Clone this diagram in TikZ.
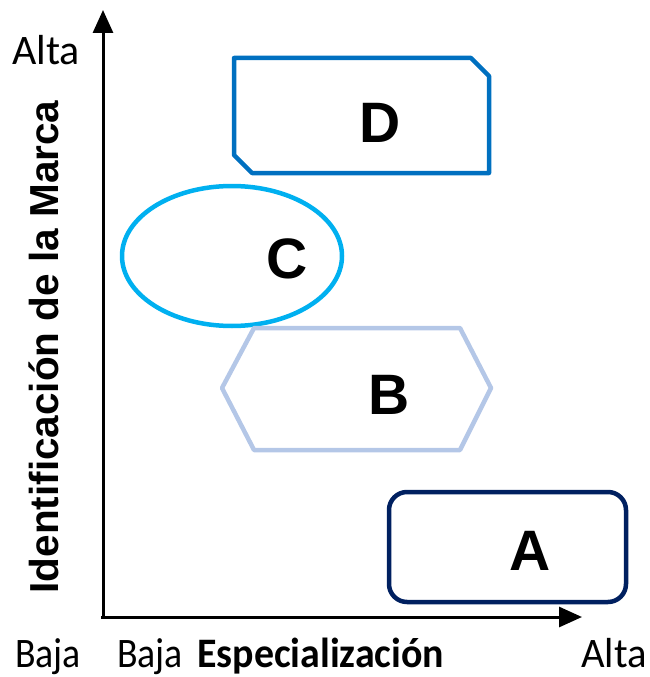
\documentclass[tikz,border=0pt]{standalone}
\usepackage{fontspec}
\setmainfont{Carlito}
\newfontfamily\arialb[BoldFont={Liberation Sans Bold}]{Liberation Sans}
\usetikzlibrary{arrows.meta}
\definecolor{dcol}{HTML}{0070C0}
\definecolor{ccol}{HTML}{00B0F0}
\definecolor{bcol}{HTML}{B4C7E7}
\definecolor{acol}{HTML}{002060}
\tikzset{
  axis/.style={line width=3pt,-{Triangle[length=23pt,width=20pt]}},
  shapeline/.style={line width=4.5pt,line join=round},
  letter/.style={font=\arialb\bfseries\fontsize{57}{60}\selectfont,inner sep=0pt,anchor=center},
  lab/.style={font=\fontsize{42}{46}\selectfont,inner sep=0pt,anchor=base west},
  labb/.style={font=\bfseries\fontsize{42}{46}\selectfont,inner sep=0pt,anchor=base west},
}
\begin{document}
\begin{tikzpicture}[x=1pt,y=-1pt]
\useasboundingbox (0,0) rectangle (649,677);
\coordinate (origin) at (103,617);
\coordinate (ytip) at (103,10);
\coordinate (xtip) at (582,617);
\draw[axis] (101,617) -- (xtip);
\draw[axis] (origin) -- (ytip);
% D
\draw[shapeline,dcol] (234,58) -- (471,58) -- (489,76) -- (489,173) -- (252,173) -- (234,155) -- cycle;
\node[letter] (D) at (380,123) {D};
% C
\draw[shapeline,ccol] (232,256) ellipse [x radius=110,y radius=70];
\node[letter] (C) at (287,259) {C};
% B
\draw[shapeline,bcol] (222,388) -- (254,328) -- (460,328) -- (491,388) -- (460,450) -- (254,450) -- cycle;
\node[letter] (B) at (389,395) {B};
% A
\draw[shapeline,acol,rounded corners=18pt] (389,492) rectangle (626,602);
\node[letter] (A) at (530,551) {A};
% labels
\node[lab] (ytop) at (12,65) {Alta};
\node[lab,xscale=0.9] (xlow1) at (15,667) {Baja};
\node[lab,xscale=0.9] (xlow2) at (117,667) {Baja};
\node[labb,xscale=0.95] (xname) at (197,667) {Especialización};
\node[lab,xscale=0.97] (xhigh) at (581,667) {Alta};
\node[font=\arialb\bfseries\fontsize{40.5}{44}\selectfont,inner sep=0pt,rotate=90,anchor=base] (yname) at (58,347) {Identificación de la Marca};
\end{tikzpicture}
\end{document}
